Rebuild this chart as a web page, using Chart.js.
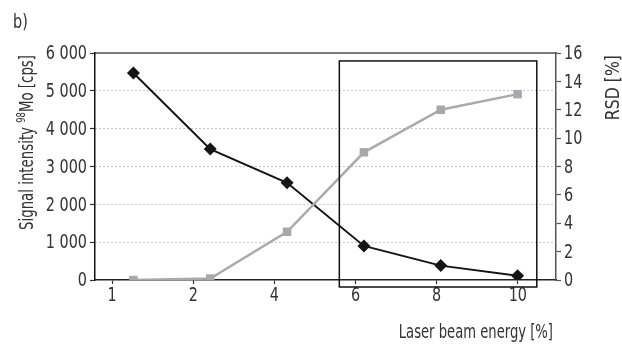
<!DOCTYPE html>
<html>
<head>
<meta charset="utf-8">
<script src="https://cdn.jsdelivr.net/npm/chart.js@4/dist/chart.umd.min.js"></script>
<style>
  body { margin: 0; background: #fff; }
  canvas { display: block; }
</style>
</head>
<body>
<canvas id="graph" width="622" height="344"></canvas>
<script>
// tick labels along the energy axis, and the measured points
const energyLabels = ['1', '2', '4', '6', '8', '10'];
const pointSlots = ['p1', 'p2', 'p3', 'p4', 'p5', 'p6'];
const intensity = [5470, 3460, 2570, 900, 380, 110];   // cps, left axis
const rsd = [0, 0.1, 3.4, 9.0, 12.0, 13.1];             // %, right axis

// framed region (slot index / cps units)
const boxSlots = [2.68, 5.25];
const boxCps = [-185, 5790];

const FONT = '"DejaVu Sans Condensed", "DejaVu Sans", sans-serif';
const TEXT = '#333333';
const SQUEEZE = 0.8; // narrow the glyphs a bit, the font is rather wide

function spaced(v) {
  return v.toString().replace(/\B(?=(\d{3})+(?!\d))/g, ' ');
}

// text squeezed horizontally, rotated when angle is given
function squeezed(ctx, text, x, y, opts) {
  ctx.save();
  ctx.translate(x, y);
  if (opts.angle) ctx.rotate(opts.angle);
  ctx.scale(opts.sx || SQUEEZE, 1);
  ctx.font = opts.size + 'px ' + FONT;
  ctx.textAlign = opts.align || 'left';
  ctx.textBaseline = opts.baseline || 'alphabetic';
  ctx.fillText(text, 0, 0);
  ctx.restore();
}

// draws tick labels, axis titles, the "b)" tag and the frame
const extras = {
  id: 'extras',
  afterDraw(chart) {
    const ctx = chart.ctx;
    const { xd, x, y, y2 } = chart.scales;
    ctx.save();
    ctx.fillStyle = TEXT;

    x.ticks.forEach((t) => {
      squeezed(ctx, energyLabels[t.value], x.getPixelForValue(t.value), 296,
        { size: 20, align: 'center', baseline: 'middle' });
    });
    y.ticks.forEach((t) => {
      squeezed(ctx, spaced(t.value), 87, y.getPixelForValue(t.value) + 1,
        { size: 20, align: 'right', baseline: 'middle' });
    });
    y2.ticks.forEach((t) => {
      squeezed(ctx, String(t.value), 564, y2.getPixelForValue(t.value) + 1,
        { size: 20, align: 'left', baseline: 'middle' });
    });

    squeezed(ctx, 'b)', 13, 28, { size: 20 });
    squeezed(ctx, 'Laser beam energy [%]', 553, 338, { size: 19, align: 'right', sx: 0.77 });

    // left title with superscript mass number
    ctx.save();
    ctx.translate(33, 230);
    ctx.rotate(-Math.PI / 2);
    ctx.scale(0.78, 1);
    ctx.textAlign = 'left';
    let px = 0;
    const parts = [['Signal intensity ', 19, 0], ['98', 12, -8], ['Mo [cps]', 19, 0]];
    parts.forEach(([txt, s, dy]) => {
      ctx.font = s + 'px ' + FONT;
      ctx.fillText(txt, px, dy);
      px += ctx.measureText(txt).width;
    });
    ctx.restore();

    // right title, reads upwards
    squeezed(ctx, 'RSD [%]', 619, 55, { size: 19, align: 'right', angle: -Math.PI / 2, sx: 0.92 });

    // frame
    const x0 = xd.getPixelForValue(boxSlots[0]);
    const x1 = xd.getPixelForValue(boxSlots[1]);
    const y0 = y.getPixelForValue(boxCps[1]);
    const y1 = y.getPixelForValue(boxCps[0]);
    ctx.strokeStyle = '#111';
    ctx.lineWidth = 1.5;
    ctx.strokeRect(x0, y0, x1 - x0, y1 - y0);
    ctx.restore();
  }
};

const ctx = document.getElementById('graph');
new Chart(ctx, {
  type: 'line',
  data: {
    labels: pointSlots,
    datasets: [
      {
        label: 'RSD',
        data: rsd,
        xAxisID: 'xd',
        yAxisID: 'y2',
        borderColor: '#aaaaac',
        backgroundColor: '#a8a8aa',
        borderWidth: 2.5,
        pointStyle: 'rect',
        pointRadius: 6,
        pointBorderWidth: 0,
        tension: 0
      },
      {
        label: 'Intensity',
        data: intensity,
        xAxisID: 'xd',
        yAxisID: 'y',
        borderColor: '#151515',
        backgroundColor: '#151515',
        borderWidth: 2,
        pointStyle: 'rectRot',
        pointRadius: 6.5,
        pointBorderWidth: 0,
        tension: 0
      }
    ]
  },
  options: {
    responsive: false,
    animation: false,
    layout: { padding: 0 },
    plugins: {
      legend: { display: false },
      tooltip: { enabled: false }
    },
    scales: {
      xd: {
        type: 'category',
        display: false,
        offset: true
      },
      x: {
        type: 'linear',
        position: 'bottom',
        min: -0.21,
        max: 5.47,
        afterBuildTicks: (s) => { s.ticks = energyLabels.map((_, i) => ({ value: i })); },
        afterFit: (s) => { s.height = 64; },
        grid: { drawOnChartArea: false, tickLength: 4, tickColor: '#333', tickWidth: 1.2 },
        border: { color: '#222', width: 1.5 },
        ticks: { display: false }
      },
      xTop: {
        type: 'linear',
        position: 'top',
        min: 0,
        max: 1,
        afterFit: (s) => { s.height = 53; },
        grid: { display: false },
        ticks: { display: false },
        border: { color: '#7a7a7a', width: 2 }
      },
      y: {
        position: 'left',
        min: 0,
        max: 6000,
        afterFit: (s) => { s.width = 95; },
        ticks: { display: false, stepSize: 1000 },
        grid: {
          color: (c) => (c.tick && (c.tick.value === 0 || c.tick.value === 6000)) ? 'rgba(0,0,0,0)' : '#8c8c8c',
          lineWidth: 1,
          tickLength: 5,
          tickColor: '#333',
          tickWidth: 1.2
        },
        border: { color: '#111', width: 1.5, dash: [1, 3] }
      },
      y2: {
        position: 'right',
        min: 0,
        max: 16,
        afterFit: (s) => { s.width = 66; },
        ticks: { display: false, stepSize: 2 },
        grid: { drawOnChartArea: false, tickLength: 5, tickColor: '#555', tickWidth: 1.2 },
        border: { color: '#555', width: 1.5 }
      }
    }
  },
  plugins: [extras]
});
</script>
</body>
</html>
